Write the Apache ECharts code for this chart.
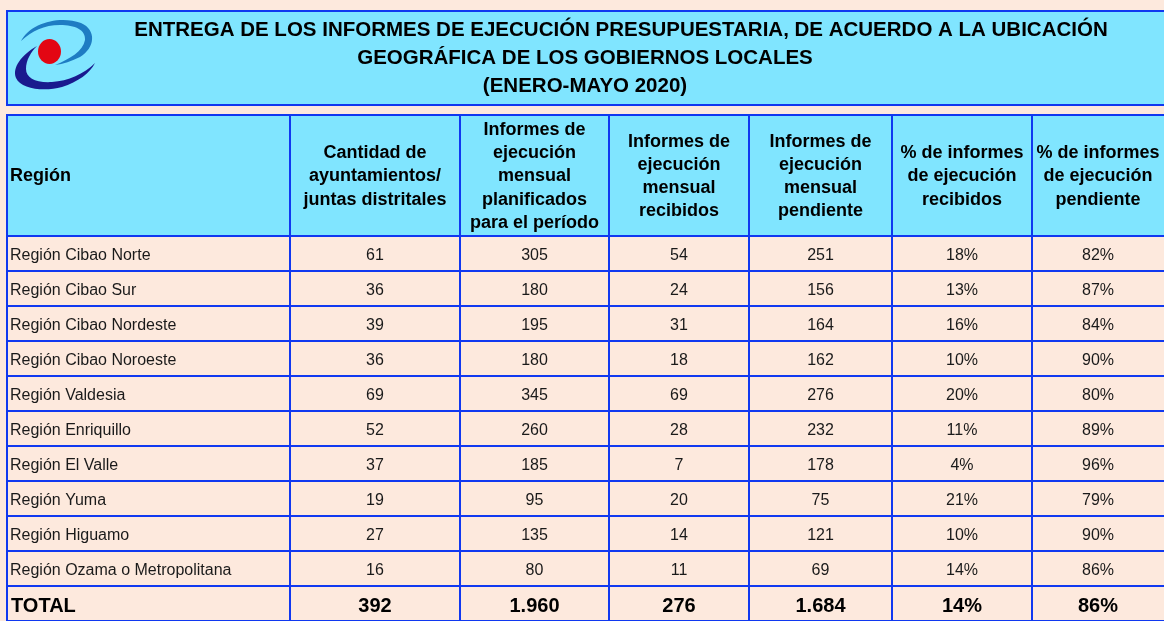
<!DOCTYPE html>
<html>
<head>
<meta charset="utf-8">
<script src="https://cdn.jsdelivr.net/npm/echarts@6/dist/echarts.min.js"></script>
<style>
html,body{margin:0;padding:0;background:#FDE9DD;}
#main{width:1164px;height:621px;}
</style>
</head>
<body>
<div id="main"></div>
<script>
// ---- data ----
const titleLines = [
  'ENTREGA DE LOS INFORMES DE EJECUCIÓN PRESUPUESTARIA, DE ACUERDO A LA UBICACIÓN',
  'GEOGRÁFICA DE LOS GOBIERNOS LOCALES',
  '(ENERO-MAYO 2020)'
];
const headers = [
  ['Región'],
  ['Cantidad de', 'ayuntamientos/', 'juntas distritales'],
  ['Informes de', 'ejecución', 'mensual', 'planificados', 'para el período'],
  ['Informes de', 'ejecución', 'mensual', 'recibidos'],
  ['Informes de', 'ejecución', 'mensual', 'pendiente'],
  ['% de informes', 'de ejecución', 'recibidos'],
  ['% de informes', 'de ejecución', 'pendiente']
];
const regions = [
  'Región Cibao Norte', 'Región Cibao Sur', 'Región Cibao Nordeste', 'Región Cibao Noroeste',
  'Región Valdesia', 'Región Enriquillo', 'Región El Valle', 'Región Yuma', 'Región Higuamo',
  'Región Ozama o Metropolitana'
];
const cantidad     = [61, 36, 39, 36, 69, 52, 37, 19, 27, 16];
const planificados = [305, 180, 195, 180, 345, 260, 185, 95, 135, 80];
const recibidos    = [54, 24, 31, 18, 69, 28, 7, 20, 14, 11];
const pendientes   = [251, 156, 164, 162, 276, 232, 178, 75, 121, 69];
const pctRecibidos = [18, 13, 16, 10, 20, 11, 4, 21, 10, 14];
const pctPendiente = [82, 87, 84, 90, 80, 89, 96, 79, 90, 86];
const totalLabel = 'TOTAL';
const totals = [392, 1960, 276, 1684, 14, 86];

// ---- layout / style ----
const BG = '#FDE9DD', CYAN = '#80E5FF', BLUE = '#1038F0', FONT = '"Liberation Sans", Arial, sans-serif';
const colX = [7, 290, 460, 609, 749, 892, 1032, 1168];
const LW = 2;

function fmt(n) { return String(n).replace(/\B(?=(\d{3})+(?!\d))/g, '.'); }
function pct(n) { return n + '%'; }

const rowLabels = regions.concat([totalLabel]);
const rowCells = regions.map((r, i) => [r, String(cantidad[i]), String(planificados[i]), String(recibidos[i]),
  String(pendientes[i]), pct(pctRecibidos[i]), pct(pctPendiente[i])]);
rowCells.push([totalLabel, fmt(totals[0]), fmt(totals[1]), fmt(totals[2]), fmt(totals[3]), pct(totals[4]), pct(totals[5])]);

const graphics = [];
// title box
graphics.push({ type: 'rect', shape: { x: colX[0], y: 11, width: colX[7] - colX[0], height: 94 },
  style: { fill: CYAN, stroke: BLUE, lineWidth: LW }, z: 1 });
const titlePos = [[621, 30.5], [585, 58.5], [585, 86.5]];
titleLines.forEach((t, i) => graphics.push({ type: 'text', x: titlePos[i][0], y: titlePos[i][1], z: 3,
  style: { text: t, font: 'bold 20.5px ' + FONT, fill: '#000', align: 'center', verticalAlign: 'middle' } }));

// header row
for (let c = 0; c < 7; c++) {
  graphics.push({ type: 'rect', z: 1, shape: { x: colX[c], y: 115, width: colX[c + 1] - colX[c], height: 121 },
    style: { fill: CYAN, stroke: BLUE, lineWidth: LW } });
  const lines = headers[c];
  const lh = 23.2;
  const cy = 176.5;
  lines.forEach((ln, k) => {
    const y = cy + (k - (lines.length - 1) / 2) * lh;
    graphics.push({ type: 'text', z: 3, x: c === 0 ? 10 : (colX[c] + Math.min(colX[c + 1], 1164)) / 2, y: y,
      style: { text: ln, font: 'bold 18px ' + FONT, fill: '#000', align: c === 0 ? 'left' : 'center', verticalAlign: 'middle' } });
  });
}

const logoSeries = {
  type: 'custom',
  clip: false,
  z: 10,
  silent: true,
  data: [[0, 0]],
  renderItem: function () {
    return { type: 'group', children: [
      { type: 'path', shape: { pathData:
        'M 21 41 C 30 23 60 15 81 23 C 97 30 95 48 80 57 C 72 61 63 64 55 65 C 70 59 83 51 85 40 C 86 30 75 25 60 25 C 44 25 32 31 21 41 Z' },
        style: { fill: '#1E7CC3' } },
      { type: 'path', shape: { pathData:
        'M 37 46 C 21 55 12 68 16 78 C 21 89 44 92 62 87 C 78 82 90 73 95 63 C 84 74 68 81 52 82 C 36 83 26 78 26 69 C 26 60 31 52 37 46 Z' },
        style: { fill: '#1A1A8E' } },
      { type: 'path', shape: { pathData:
        'M 38 51.5 A 11.5 12.5 0 1 0 61 51.5 A 11.5 12.5 0 1 0 38 51.5 Z' },
        style: { fill: '#E30613' } }
    ] };
  }
};

const option = {
  animation: false,
  backgroundColor: BG,
  grid: { left: 0, right: 0, top: 236, bottom: 0 },
  xAxis: { type: 'value', min: 0, max: 1164, show: false },
  yAxis: { type: 'category', data: rowLabels, inverse: true, show: false },
  graphic: graphics,
  series: [{
    type: 'custom',
    clip: false,
    encode: { x: 0, y: 1 },
    data: rowLabels.map((r, i) => [0, i]),
    renderItem: function (params, api) {
      const idx = api.value(1);
      const yc = api.coord([0, idx])[1];
      const h = api.size([0, 1])[1];
      const isTotal = idx === rowLabels.length - 1;
      const children = [];
      const cells = rowCells[idx];
      for (let c = 0; c < 7; c++) {
        const x0 = api.coord([colX[c], idx])[0];
        const x1 = api.coord([colX[c + 1], idx])[0];
        children.push({ type: 'rect', shape: { x: x0, y: yc - h / 2, width: x1 - x0, height: h },
          style: { fill: BG, stroke: BLUE, lineWidth: LW } });
        const right = Math.min(x1, 1164);
        children.push({ type: 'text', z2: 5,
          x: c === 0 ? x0 + (isTotal ? 4 : 3) : (x0 + right) / 2,
          y: yc + (isTotal ? 2.5 : 2),
          style: { text: cells[c], font: (isTotal ? 'bold 20px ' : '16px ') + FONT, fill: isTotal ? '#000' : '#1a1a1a',
            align: c === 0 ? 'left' : 'center', verticalAlign: 'middle' } });
      }
      return { type: 'group', children: children };
    }
  }, logoSeries]
};
const chart = echarts.init(document.getElementById('main'));
chart.setOption(option);
</script>
</body>
</html>
